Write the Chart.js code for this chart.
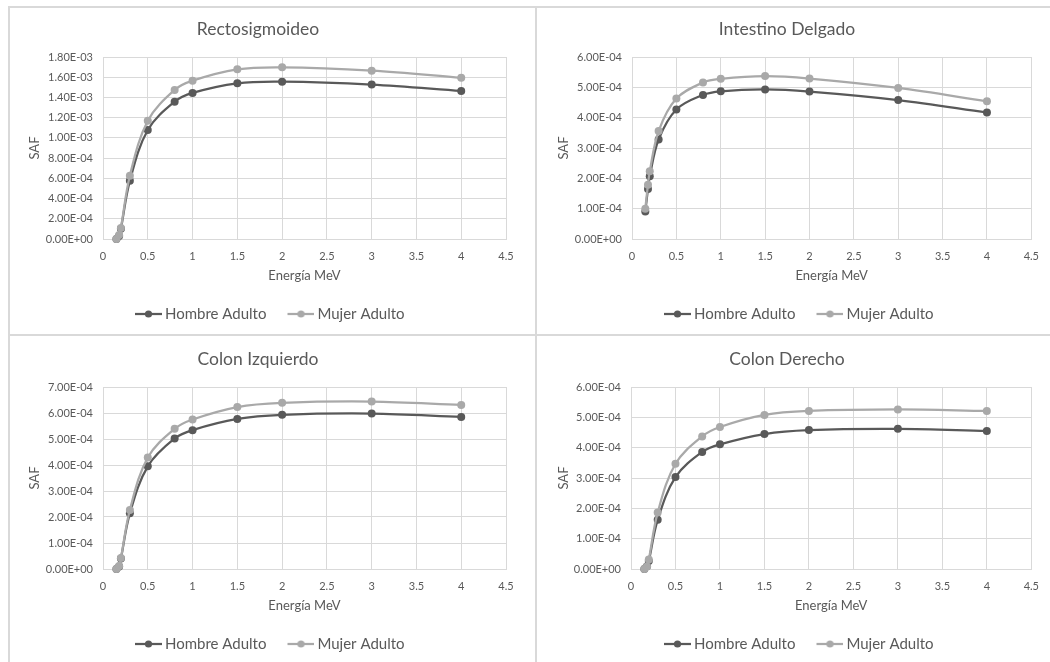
<!DOCTYPE html>
<html>
<head>
<meta charset="utf-8">
<script src="https://cdn.jsdelivr.net/npm/chart.js@4.4.1/dist/chart.umd.min.js"></script>
<style>
  html, body { margin: 0; padding: 0; background: #fff; }
  body { width: 1050px; height: 662px; position: relative; overflow: hidden; }
  .line { position: absolute; background: #d9d9d9; }
  .panel { position: absolute; width: 525px; height: 326px; }
  .panel canvas { display: block; }
</style>
</head>
<body>
<div class="line" style="left:8px;top:6px;width:1042px;height:2px"></div>
<div class="line" style="left:8px;top:6px;width:2px;height:656px"></div>
<div class="line" style="left:535px;top:6px;width:2px;height:656px"></div>
<div class="line" style="left:8px;top:334px;width:1042px;height:2px"></div>

<div class="panel" style="left:10px;top:8px"><canvas id="c1"></canvas></div>
<div class="panel" style="left:537px;top:8px;width:513px"><canvas id="c2"></canvas></div>
<div class="panel" style="left:10px;top:336px"><canvas id="c3"></canvas></div>
<div class="panel" style="left:537px;top:336px;width:513px"><canvas id="c4"></canvas></div>

<script>
// Energías (MeV), comunes a los cuatro gráficos
const energia = [0.15, 0.18, 0.2, 0.3, 0.5, 0.8, 1, 1.5, 2, 3, 4];
const xTicks  = [0, 0.5, 1, 1.5, 2, 2.5, 3, 3.5, 4, 4.5];

// Rectosigmoideo
const rectoHombre = [0, 3e-5, 1.02e-4, 5.75e-4, 1.078e-3, 1.358e-3, 1.445e-3, 1.54e-3, 1.556e-3, 1.527e-3, 1.464e-3];
const rectoMujer  = [0, 4e-5, 1.1e-4, 6.26e-4, 1.17e-3, 1.474e-3, 1.566e-3, 1.678e-3, 1.698e-3, 1.665e-3, 1.594e-3];

// Intestino Delgado
const intestinoHombre = [9.1e-5, 1.65e-4, 2.07e-4, 3.28e-4, 4.27e-4, 4.75e-4, 4.87e-4, 4.93e-4, 4.86e-4, 4.58e-4, 4.17e-4];
const intestinoMujer  = [1.0e-4, 1.79e-4, 2.23e-4, 3.56e-4, 4.63e-4, 5.16e-4, 5.28e-4, 5.37e-4, 5.29e-4, 4.98e-4, 4.54e-4];

// Colon Izquierdo
const colonIzqHombre = [0, 1.0e-5, 4.0e-5, 2.14e-4, 3.95e-4, 5.02e-4, 5.34e-4, 5.77e-4, 5.93e-4, 5.98e-4, 5.85e-4];
const colonIzqMujer  = [0, 1.2e-5, 4.2e-5, 2.27e-4, 4.29e-4, 5.39e-4, 5.75e-4, 6.23e-4, 6.39e-4, 6.44e-4, 6.31e-4];

// Colon Derecho
const colonDerHombre = [0, 9e-6, 2.6e-5, 1.62e-4, 3.03e-4, 3.86e-4, 4.11e-4, 4.45e-4, 4.58e-4, 4.62e-4, 4.55e-4];
const colonDerMujer  = [0, 8e-6, 3.1e-5, 1.86e-4, 3.47e-4, 4.37e-4, 4.68e-4, 5.08e-4, 5.21e-4, 5.26e-4, 5.21e-4];

const FONT = 'Lato, "Noto Sans", sans-serif';
const TXT = '#595959';
const GRID = '#d9d9d9';
const DARK = '#595959';
const LIGHT = '#a9a9a9';

// "1.80E-03" como en Excel
function sci(v){
  const [m, e] = Number(v).toExponential(2).split('e');
  const n = parseInt(e, 10);
  return m + 'E' + (n < 0 ? '-' : '+') + String(Math.abs(n)).padStart(2, '0');
}

// icono de leyenda: línea con marcador
function legendIcon(color){
  const c = document.createElement('canvas');
  c.width = 30; c.height = 10;
  const g = c.getContext('2d');
  g.strokeStyle = color; g.lineWidth = 2.25;
  g.beginPath(); g.moveTo(3, 5); g.lineTo(30, 5); g.stroke();
  g.fillStyle = color;
  g.beginPath(); g.arc(16.5, 5, 3.6, 0, Math.PI * 2); g.fill();
  return c;
}
const ICONS = [legendIcon(DARK), legendIcon(LIGHT)];

// la leyenda de Excel queda un poco a la derecha
const legendShift = {
  id: 'legendShift',
  afterLayout(chart){
    const lg = chart.legend;
    if (lg) { lg.left += 12.5; lg.right += 12.5; }
  }
};

function pts(ys){ return energia.map((x, i) => ({ x, y: ys[i] })); }

function mkChart(id, titulo, hombre, mujer, yMax, yStep, lay){
  const ds = (label, data, color, order) => ({
    label, data: pts(data), showLine: true, order,
    borderColor: color, backgroundColor: color,
    borderWidth: 2.25, pointRadius: 4, pointHoverRadius: 4,
    pointBorderWidth: 0, tension: 0.35, clip: false
  });
  return new Chart(document.getElementById(id), {
    type: 'scatter',
    data: { datasets: [ ds('Hombre Adulto', hombre, DARK, 1), ds('Mujer Adulto', mujer, LIGHT, 0) ] },
    plugins: [legendShift],
    options: {
      responsive: true, maintainAspectRatio: false, animation: false,
      layout: { padding: { left: 0, right: lay.right, top: lay.top, bottom: lay.bottom } },
      plugins: {
        tooltip: { enabled: false },
        title: {
          display: true, text: titulo, color: TXT,
          font: { family: FONT, size: 17.5, weight: 'normal' },
          padding: { top: 10.5, bottom: 17.5 }
        },
        legend: {
          position: 'bottom',
          labels: {
            usePointStyle: true, pointStyleWidth: 21, padding: 22.5,
            color: TXT, font: { family: FONT, size: 15 },
            generateLabels: (chart) => chart.data.datasets.map((d, i) => ({
              text: d.label, datasetIndex: i, pointStyle: ICONS[i],
              fillStyle: d.borderColor, strokeStyle: d.borderColor, lineWidth: 0,
              fontColor: TXT, hidden: false
            }))
          }
        }
      },
      scales: {
        x: {
          type: 'linear', min: 0, max: 4.5,
          afterBuildTicks: (s) => { s.ticks = xTicks.map(v => ({ value: v })); },
          afterFit: (s) => { s.height = 45; },
          grid: { color: GRID, drawTicks: false },
          border: { color: GRID },
          ticks: { color: TXT, padding: 11, font: { family: FONT, size: 11 }, callback: v => String(v) },
          title: { display: true, text: 'Energía MeV', color: TXT, font: { family: FONT, size: 13 }, padding: { top: 0, bottom: 0 } }
        },
        y: {
          min: 0, max: yMax,
          afterFit: (s) => { s.width = lay.yw; },
          grid: { color: GRID, drawTicks: false },
          border: { color: GRID },
          ticks: { stepSize: yStep, color: TXT, padding: 10, font: { family: FONT, size: 11 }, callback: v => sci(v) },
          title: { display: true, text: 'SAF', color: TXT, font: { family: FONT, size: 13 }, padding: { top: lay.yt, bottom: 0 } }
        }
      }
    }
  });
}

mkChart('c1', 'Rectosigmoideo',    rectoHombre,     rectoMujer,     1.8e-3, 2e-4, { yw: 93, right: 29, top: 0, bottom: 2.5, yt: 17 });
mkChart('c2', 'Intestino Delgado', intestinoHombre, intestinoMujer, 6e-4,   1e-4, { yw: 95, right: 13, top: 0, bottom: 2.5, yt: 19 });
mkChart('c3', 'Colon Izquierdo',   colonIzqHombre,  colonIzqMujer,  7e-4,   1e-4, { yw: 93, right: 29, top: 2, bottom: 0.5, yt: 17 });
mkChart('c4', 'Colon Derecho',     colonDerHombre,  colonDerMujer,  6e-4,   1e-4, { yw: 94, right: 13, top: 2, bottom: 0.5, yt: 19 });
</script>
</body>
</html>
